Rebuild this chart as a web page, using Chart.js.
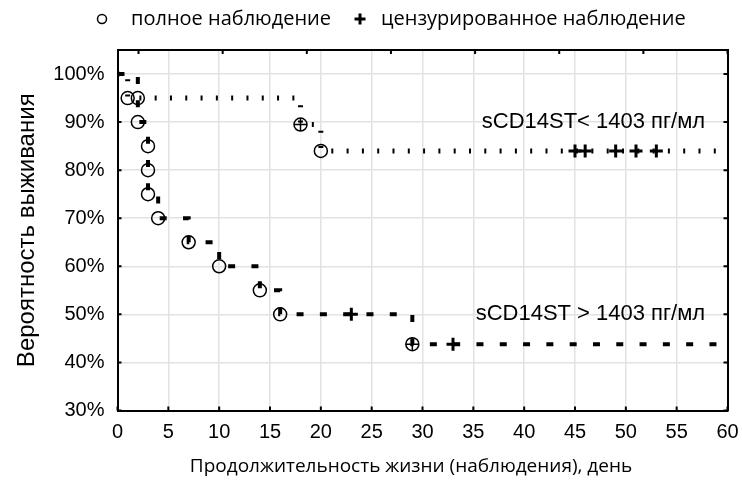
<!DOCTYPE html>
<html>
<head>
<meta charset="utf-8">
<script src="https://cdn.jsdelivr.net/npm/chart.js@4.4.1/dist/chart.umd.min.js"></script>
<style>
  html, body { margin: 0; padding: 0; background: #fff; }
  #wrap { width: 742px; height: 483px; }
</style>
</head>
<body>
<div id="wrap"><canvas id="c" width="742" height="483"></canvas></div>
<script>
// ---- data ----
// Group 1: sCD14ST < 1403 pg/ml (dotted)
const G1_TIME = [0, 1, 18, 20, 60];
const G1_SURV = [100, 95, 89.5, 84, 84];
const G1_EVENT_TIME = [1, 20];
const G1_EVENT_SURV = [95, 84];
const G1_CENS_TIME = [45, 46, 49, 51, 53];
const G1_CENS_SURV = [84, 84, 84, 84, 84];
// Group 2: sCD14ST > 1403 pg/ml (dashed)
const G2_TIME = [0, 2, 2, 3, 3, 3, 4, 7, 10, 14, 16, 29, 60];
const G2_SURV = [100, 95, 90, 85, 80, 75, 70, 65, 60, 55, 50, 43.8, 43.8];
const G2_EVENT_TIME = [2, 2, 3, 3, 3, 4, 7, 10, 14, 16];
const G2_EVENT_SURV = [95, 90, 85, 80, 75, 70, 65, 60, 55, 50];
const G2_CENS_TIME = [23, 33];
const G2_CENS_SURV = [50, 43.8];
// event + censoring at the same point (circle with cross)
const BOTH_TIME = [18, 29];
const BOTH_SURV = [89.5, 43.8];
// annotations
const LABELS = ['sCD14ST< 1403 пг/мл', 'sCD14ST > 1403 пг/мл'];
const LABEL_X = [57.8, 57.8];
const LABEL_Y = [90, 50];
const LEGEND_TEXT = ['полное наблюдение', 'цензурированное наблюдение'];
const X_TITLE = 'Продолжительность жизни (наблюдения), день';
const Y_TITLE = 'Вероятность выживания';

const pts = (xs, ys) => xs.map((x, i) => ({ x: x, y: ys[i] }));

const AX_FONT = 'Liberation Sans, Arial, sans-serif';
const NARROW_FONT = '"Open Sans", sans-serif';

const decorations = {
  id: 'decorations',
  afterDraw(chart) {
    const ctx = chart.ctx, a = chart.chartArea;
    const x = chart.scales.x, y = chart.scales.y, x2 = chart.scales.x2;
    ctx.save();
    ctx.strokeStyle = '#000';
    ctx.lineWidth = 2;
    ctx.beginPath();
    x.ticks.forEach(t => { const p = x.getPixelForValue(t.value); ctx.moveTo(p, a.bottom); ctx.lineTo(p, a.bottom - 4); });
    y.ticks.forEach(t => { const p = y.getPixelForValue(t.value); ctx.moveTo(a.left, p); ctx.lineTo(a.left + 4, p); ctx.moveTo(a.right, p); ctx.lineTo(a.right - 4, p); });
    x2.ticks.forEach(t => { const p = x2.getPixelForValue(t.value); ctx.moveTo(p, a.top); ctx.lineTo(p, a.top + 4); });
    ctx.stroke();
    // annotations
    ctx.fillStyle = '#000';
    ctx.font = '22px ' + AX_FONT;
    ctx.textAlign = 'right';
    ctx.textBaseline = 'middle';
    LABELS.forEach((s, i) => ctx.fillText(s, x.getPixelForValue(LABEL_X[i]), y.getPixelForValue(LABEL_Y[i])));
    // x axis title
    ctx.font = '19px ' + NARROW_FONT;
    ctx.textAlign = 'center';
    ctx.fillText(X_TITLE, 411, 467);
    // legend
    ctx.font = '20px ' + NARROW_FONT;
    ctx.textAlign = 'left';
    const ly = 19;
    const cx = 102;
    ctx.lineWidth = 1.5;
    ctx.beginPath(); ctx.arc(cx, ly, 4.5, 0, Math.PI * 2); ctx.stroke();
    const tx = cx + 29;
    ctx.fillText(LEGEND_TEXT[0], tx, ly);
    const px = tx + ctx.measureText(LEGEND_TEXT[0]).width + 29;
    ctx.lineWidth = 3;
    ctx.beginPath(); ctx.moveTo(px - 5.5, ly); ctx.lineTo(px + 5.5, ly); ctx.moveTo(px, ly - 5.5); ctx.lineTo(px, ly + 5.5); ctx.stroke();
    ctx.fillText(LEGEND_TEXT[1], px + 21, ly);
    ctx.restore();
  }
};

new Chart(document.getElementById('c'), {
  type: 'scatter',
  data: {
    datasets: [
      { data: pts(G1_TIME, G1_SURV), showLine: true, stepped: 'before', borderColor: '#000', borderWidth: 5, borderDash: [2, 13.3], borderCapStyle: 'butt', pointRadius: 0, fill: false },
      { data: pts(G2_TIME, G2_SURV), showLine: true, stepped: 'before', borderColor: '#000', borderWidth: 4, borderDash: [7, 16.3], borderCapStyle: 'butt', pointRadius: 0, fill: false },
      { data: pts(G1_EVENT_TIME, G1_EVENT_SURV).concat(pts(G2_EVENT_TIME, G2_EVENT_SURV)), pointStyle: 'circle', pointRadius: 6.5, borderColor: '#000', borderWidth: 1.5, backgroundColor: 'rgba(0,0,0,0)' },
      { data: pts(G1_CENS_TIME, G1_CENS_SURV).concat(pts(G2_CENS_TIME, G2_CENS_SURV)), pointStyle: 'cross', pointRadius: 6.5, borderColor: '#000', borderWidth: 3 },
      { data: pts(BOTH_TIME, BOTH_SURV), pointStyle: 'circle', pointRadius: 6.5, borderColor: '#000', borderWidth: 1.5, backgroundColor: 'rgba(0,0,0,0)' },
      { data: pts(BOTH_TIME, BOTH_SURV), pointStyle: 'cross', pointRadius: 6.5, borderColor: '#000', borderWidth: 1.5 }
    ]
  },
  options: {
    responsive: false,
    animation: false,
    events: [],
    layout: { padding: { top: 50, right: 14.5, left: 0, bottom: 0 } },
    plugins: { legend: { display: false }, tooltip: { enabled: false } },
    scales: {
      x: {
        type: 'linear', position: 'bottom', min: 0, max: 60,
        ticks: { stepSize: 5, color: '#000', font: { family: AX_FONT, size: 20 }, padding: 10, maxRotation: 0 },
        grid: { color: '#e2e2e2', lineWidth: 1.5, drawTicks: false },
        border: { color: '#000', width: 2 },
        afterFit: s => { s.height = 72.5; s.paddingLeft = 0; s.paddingRight = 0; }
      },
      x2: {
        type: 'linear', position: 'top', min: -0.25, max: 7,
        ticks: { stepSize: 1, display: false, includeBounds: false },
        grid: { drawOnChartArea: false, drawTicks: false },
        border: { color: '#000', width: 2 },
        afterFit: s => { s.height = 0; s.paddingLeft = 0; s.paddingRight = 0; }
      },
      y: {
        type: 'linear', position: 'left', min: 30, max: 105,
        ticks: { stepSize: 10, includeBounds: false, color: '#000', font: { family: AX_FONT, size: 20 }, padding: 13, callback: v => v + '%' },
        grid: { color: '#e2e2e2', lineWidth: 1.5, drawTicks: false },
        border: { color: '#000', width: 2 },
        title: { display: true, text: Y_TITLE, color: '#000', font: { family: AX_FONT, size: 24 }, padding: { top: 13, bottom: 0 } },
        afterFit: s => { s.width = 117.5; s.paddingTop = 0; s.paddingBottom = 0; }
      },
      y2: {
        type: 'linear', position: 'right', min: 30, max: 105,
        ticks: { display: false },
        grid: { drawOnChartArea: false, drawTicks: false },
        border: { color: '#000', width: 2 },
        afterFit: s => { s.width = 0; s.paddingTop = 0; s.paddingBottom = 0; }
      }
    }
  },
  plugins: [decorations]
});
</script>
</body>
</html>
